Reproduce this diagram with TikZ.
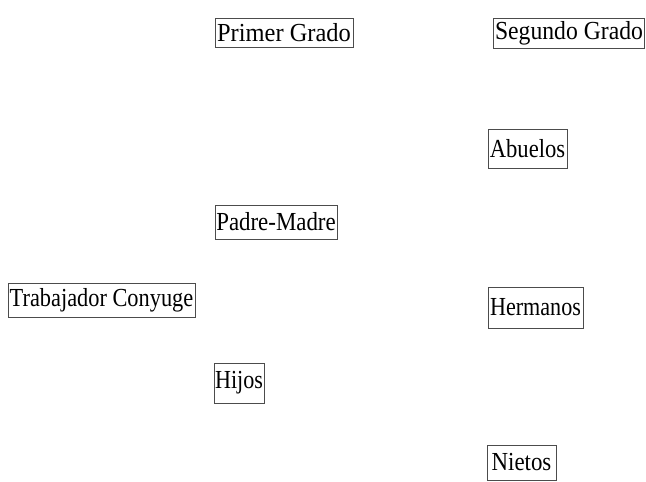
\documentclass[tikz,border=0pt]{standalone}
\usepackage{fontspec}
\setmainfont{Liberation Serif}
\begin{document}
\begin{tikzpicture}[x=1pt,y=-1pt,
  lbl/.style={draw=black!70,line width=0.7pt,inner sep=0pt,font=\fontsize{26}{28}\selectfont,anchor=center}]
\useasboundingbox[fill=white] (0,0) rectangle (646,482);
\node[lbl,minimum width=138pt,minimum height=29pt] (primer) at (284,32.5) {\scalebox{0.94}[1]{Primer Grado}};
\node[lbl,minimum width=151pt,minimum height=30pt] (segundo) at (569,33) {\scalebox{0.91}[1]{Segundo Grado}};
\node[lbl,minimum width=79pt,minimum height=39pt] (abuelos) at (527.5,148.5) {\scalebox{0.87}[1]{Abuelos}};
\node[lbl,minimum width=122pt,minimum height=34pt] (padre) at (276,222) {\scalebox{0.88}[1]{Padre-Madre}};
\node[lbl,minimum width=187pt,minimum height=34pt] (trab) at (101.5,300) {\scalebox{0.86}[1]{Trabajador Conyuge}};
\node[lbl,minimum width=95pt,minimum height=41pt] (herm) at (535.5,307.5) {\scalebox{0.85}[1]{Hermanos}};
\node[lbl,minimum width=50pt,minimum height=40pt] (hijos) at (239,383) {\scalebox{0.85}[1]{Hijos}};
\node[lbl,minimum width=69pt,minimum height=35pt] (nietos) at (521.5,462.5) {\scalebox{0.88}[1]{Nietos}};
\end{tikzpicture}
\end{document}
